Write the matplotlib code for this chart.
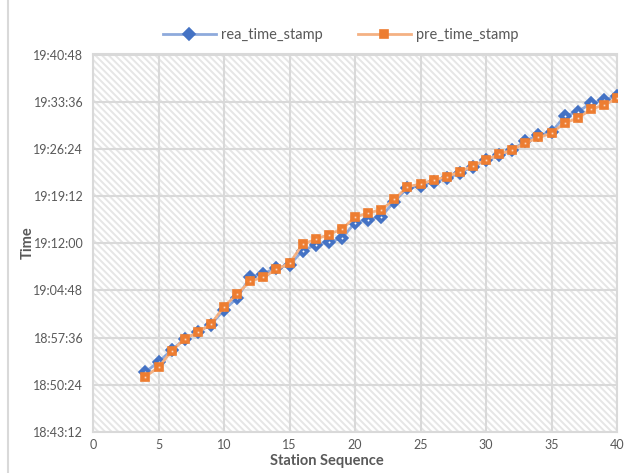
import matplotlib
matplotlib.use("Agg")
import matplotlib.pyplot as plt
from matplotlib.ticker import FixedLocator, FuncFormatter
from matplotlib.lines import Line2D
from matplotlib.patches import Rectangle

plt.rcParams['font.family'] = ['Lato', 'DejaVu Sans']
plt.rcParams['hatch.linewidth'] = 1.4

# station sequence numbers
stations = list(range(4, 41))

# actual arrival timestamps
rea_time_stamp = [
    "18:52:21", "18:53:53", "18:55:42", "18:57:23", "18:58:27", "18:59:36",
    "19:01:49", "19:03:38", "19:06:51", "19:07:23", "19:08:13", "19:08:40",
    "19:10:53", "19:11:44", "19:12:11", "19:12:45", "19:15:08", "19:15:37",
    "19:16:04", "19:18:22", "19:20:25", "19:20:48", "19:21:25", "19:21:54",
    "19:22:43", "19:23:42", "19:24:41", "19:25:27", "19:26:13", "19:27:35",
    "19:28:30", "19:28:55", "19:31:24", "19:32:04", "19:33:20", "19:33:51",
    "19:34:27",
]

# predicted arrival timestamps
pre_time_stamp = [
    "18:51:40", "18:53:04", "18:55:33", "18:57:25", "18:58:24", "18:59:40",
    "19:02:19", "19:04:15", "19:06:14", "19:06:48", "19:08:01", "19:08:56",
    "19:11:50", "19:12:36", "19:13:20", "19:14:10", "19:15:57", "19:16:39",
    "19:17:04", "19:18:42", "19:20:37", "19:21:02", "19:21:38", "19:22:09",
    "19:22:54", "19:23:49", "19:24:43", "19:25:34", "19:26:15", "19:27:17",
    "19:28:09", "19:28:46", "19:30:23", "19:31:03", "19:32:26", "19:33:05",
    "19:34:06",
]

x_ticks = [0, 5, 10, 15, 20, 25, 30, 35, 40]
y_tick_labels = ["18:43:12", "18:50:24", "18:57:36", "19:04:48", "19:12:00",
                 "19:19:12", "19:26:24", "19:33:36", "19:40:48"]


def to_sec(s):
    h, m, sec = (int(v) for v in s.split(":"))
    return h * 3600 + m * 60 + sec


def fmt_sec(v, pos=None):
    v = int(round(v))
    return f"{v // 3600}:{(v % 3600) // 60:02d}:{v % 60:02d}"


rea = [to_sec(s) for s in rea_time_stamp]
pre = [to_sec(s) for s in pre_time_stamp]
y_ticks = [to_sec(s) for s in y_tick_labels]

W, H = 636, 473
fig = plt.figure(figsize=(W / 100, H / 100), dpi=100)
ax = fig.add_axes([93 / W, (H - 432) / H, (617 - 93) / W, (432 - 54.5) / H])

# hatched plot area
ax.add_patch(Rectangle((0, 0), 1, 1, transform=ax.transAxes, facecolor='white',
                       edgecolor='#e6e6e6', linewidth=0, hatch='\\' * 5,
                       zorder=0))

grid_c = '#d9d9d9'
ax.grid(True, color=grid_c, linewidth=1.5, zorder=1)
ax.set_axisbelow(True)
for sp in ax.spines.values():
    sp.set_color(grid_c)
    sp.set_linewidth(1.5)

blue = '#4472C4'
orange = '#ED7D31'
ax.plot(stations, rea, color='#8eaadc', linewidth=2.0, zorder=3,
        marker='D', markersize=6.0, markerfacecolor=blue,
        markeredgecolor=blue, markeredgewidth=1.2, label='rea_time_stamp')
ax.plot(stations, rea, linestyle='none', marker='o', markersize=1.4,
        markerfacecolor='white', markeredgewidth=0, zorder=3.5)
ax.plot(stations, pre, color='#f4b183', linewidth=2.0, zorder=4,
        marker='s', markersize=5.2, markerfacecolor=orange,
        markeredgecolor=orange, markeredgewidth=1.2, label='pre_time_stamp')
ax.plot(stations, pre, linestyle='none', marker='s', markersize=1.2,
        markerfacecolor='#fbd9c2', markeredgewidth=0, zorder=4.5)

ax.set_xlim(x_ticks[0], x_ticks[-1])
ax.set_ylim(y_ticks[0], y_ticks[-1])
ax.xaxis.set_major_locator(FixedLocator(x_ticks))
ax.yaxis.set_major_locator(FixedLocator(y_ticks))
ax.yaxis.set_major_formatter(FuncFormatter(fmt_sec))
ax.tick_params(axis='both', length=0, labelsize=9, labelcolor='#595959')
ax.tick_params(axis='y', pad=7)
ax.tick_params(axis='x', pad=5)

fig.text(327 / W, 1 - 461 / H, 'Station Sequence', ha='center', va='center',
         fontsize=10.5, fontweight='bold', color='#595959')
fig.text(28 / W, 1 - 243 / H, 'Time', ha='center', va='center', rotation=90,
         fontsize=10.5, fontweight='bold', color='#595959')

leg = fig.legend(loc='center', bbox_to_anchor=(341 / W, 1 - 35 / H), ncol=2,
                 frameon=False, fontsize=10.5, handlelength=3.6,
                 handletextpad=0.4, columnspacing=2.4)
for t in leg.get_texts():
    t.set_color('#595959')

# outer chart border on the left
fig.add_artist(Line2D([7.5 / W, 7.5 / W], [0, 1], transform=fig.transFigure,
                      color='#d9d9d9', linewidth=1.5))

fig.savefig('out.png', dpi=100)
